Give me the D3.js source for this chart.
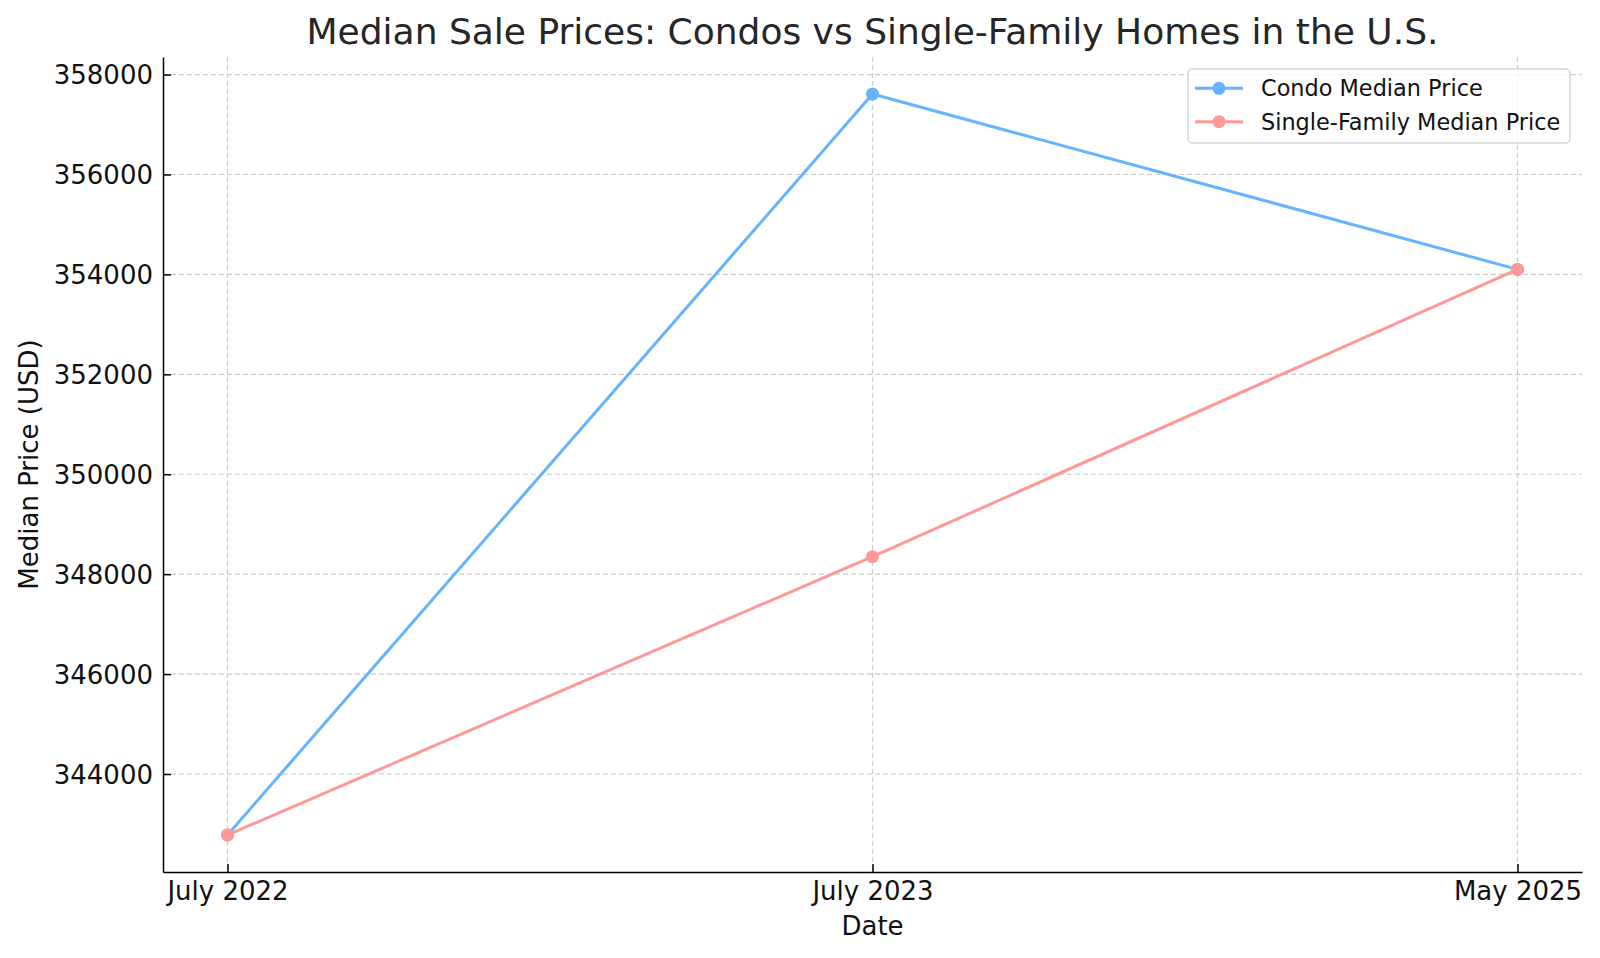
<!DOCTYPE html>
<html>
<head>
<meta charset="utf-8">
<script src="https://cdn.jsdelivr.net/npm/d3@7"></script>
<style>
  body { margin: 0; background: #fff; }
  svg { display: block; font-family: "DejaVu Sans", sans-serif; }
</style>
</head>
<body>
<div id="chart"></div>
<script>
// data
var dates       = ["July 2022", "July 2023", "May 2025"];
var condoPrices = [342780, 357610, 354100];
var sfPrices    = [342780, 348350, 354100];
var yTicks      = [344000, 346000, 348000, 350000, 352000, 354000, 356000, 358000];

var series = [
    { name: "Condo Median Price",         color: "#66b3ff", values: condoPrices },
    { name: "Single-Family Median Price", color: "#ff9999", values: sfPrices }
];

var W = 1600, H = 958,
    plotL = 163, plotR = 1582, plotT = 57, plotB = 872;

var svg = d3.select("#chart").append("svg")
    .attr("width", W).attr("height", H);

// x: categorical dates, y: price with matplotlib style 5% margins
var x = d3.scalePoint().domain(dates).range([plotL, plotR]).padding(0.1);

var all = condoPrices.concat(sfPrices),
    lo = d3.min(all), hi = d3.max(all), pad = (hi - lo) * 0.05;
var y = d3.scaleLinear().domain([lo - pad, hi + pad]).range([plotB, plotT]);

// grid
var grid = svg.append("g").attr("class", "grid")
    .attr("stroke", "#cccccc").attr("stroke-width", 1.2).attr("stroke-dasharray", "5,3");
grid.selectAll("line.h").data(yTicks).enter().append("line")
    .attr("x1", plotL).attr("x2", plotR)
    .attr("y1", function(d) { return y(d); }).attr("y2", function(d) { return y(d); });
grid.selectAll("line.v").data(dates).enter().append("line")
    .attr("y1", plotT).attr("y2", plotB)
    .attr("x1", function(d) { return x(d); }).attr("x2", function(d) { return x(d); });

// lines + markers
var line = d3.line()
    .x(function(d, i) { return x(dates[i]); })
    .y(function(d) { return y(d); });

series.forEach(function(s) {
    var g = svg.append("g");
    g.append("path").datum(s.values)
        .attr("d", line).attr("fill", "none")
        .attr("stroke", s.color).attr("stroke-width", 3)
        .attr("stroke-linejoin", "round").attr("stroke-linecap", "round");
    g.selectAll("circle").data(s.values).enter().append("circle")
        .attr("cx", function(d, i) { return x(dates[i]); })
        .attr("cy", function(d) { return y(d); })
        .attr("r", 6.5).attr("fill", s.color);
});

// axes (ticks point inward, no top/right spines)
var xAxis = svg.append("g").attr("transform", "translate(0," + plotB + ")")
    .call(d3.axisBottom(x).tickSizeInner(-8).tickSizeOuter(0).tickPadding(8));
var yAxis = svg.append("g").attr("transform", "translate(" + plotL + ",0)")
    .call(d3.axisLeft(y).tickValues(yTicks).tickFormat(d3.format("d"))
        .tickSizeInner(-8).tickSizeOuter(0).tickPadding(10));

[xAxis, yAxis].forEach(function(a) {
    a.select(".domain").attr("stroke", "#000").attr("stroke-width", 1.5);
    a.selectAll(".tick line").attr("stroke", "#000").attr("stroke-width", 1.5);
    a.selectAll(".tick text").attr("fill", "#111")
        .style("font-family", "DejaVu Sans").style("font-size", "26px");
});
xAxis.selectAll(".tick text").attr("y", 8).attr("dy", "0.76em");
yAxis.selectAll(".tick text").attr("x", -10).attr("dy", "0.36em");

// titles
svg.append("text").attr("x", (plotL + plotR) / 2).attr("y", 44)
    .attr("text-anchor", "middle").attr("fill", "#262626")
    .style("font-size", "36px")
    .text("Median Sale Prices: Condos vs Single-Family Homes in the U.S.");

svg.append("text").attr("x", (plotL + plotR) / 2).attr("y", 935)
    .attr("text-anchor", "middle").attr("fill", "#111")
    .style("font-size", "26px").text("Date");

svg.append("text").attr("transform", "translate(38," + (plotT + plotB) / 2 + ") rotate(-90)")
    .attr("text-anchor", "middle").attr("fill", "#111")
    .style("font-size", "26px").text("Median Price (USD)");

// legend
var legend = svg.append("g").attr("class", "legend");
legend.append("rect")
    .attr("x", 1188).attr("y", 69).attr("width", 382).attr("height", 74)
    .attr("rx", 4).attr("fill", "#fff").attr("fill-opacity", 0.8)
    .attr("stroke", "#d6d6d6").attr("stroke-width", 1.5);

var item = legend.selectAll("g.item").data(series).enter().append("g")
    .attr("transform", function(d, i) { return "translate(1195," + (88.3 + i * 33.4) + ")"; });
item.append("line").attr("x1", 0).attr("x2", 48)
    .attr("stroke", function(d) { return d.color; }).attr("stroke-width", 3);
item.append("circle").attr("cx", 24).attr("r", 6.5)
    .attr("fill", function(d) { return d.color; });
item.append("text").attr("x", 66).attr("dy", "0.36em")
    .attr("fill", "#111").style("font-size", "22.4px")
    .text(function(d) { return d.name; });
</script>
</body>
</html>
